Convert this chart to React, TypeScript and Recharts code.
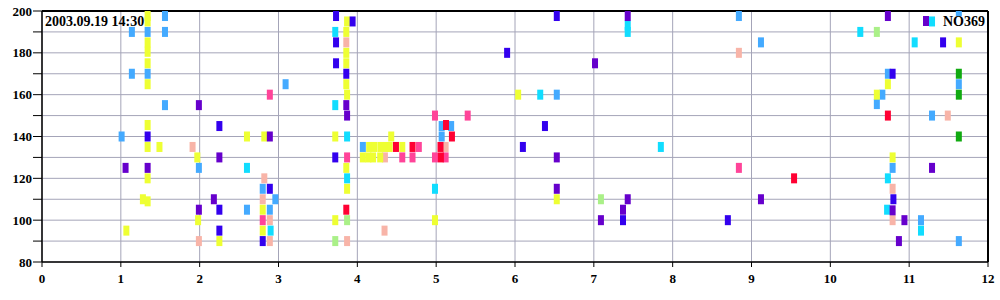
import {
  ScatterChart,
  Scatter,
  XAxis,
  YAxis,
  CartesianGrid,
  ReferenceLine,
} from "recharts";

type Pt = { x: number; y: number };

const xTicks = [0, 1, 2, 3, 4, 5, 6, 7, 8, 9, 10, 11, 12];
const yTicks = [80, 90, 100, 110, 120, 130, 140, 150, 160, 170, 180, 190, 200];

const stamp = "2003.09.19 14:30";
const legendName = "NO369";

const lightBluePts: Pt[] = [
  { x: 1.14, y: 190 }, { x: 1.14, y: 170 }, { x: 1.34, y: 190 }, { x: 1.34, y: 170 },
  { x: 1.56, y: 197.6 }, { x: 1.56, y: 190 }, { x: 1.56, y: 155 }, { x: 3.09, y: 165 },
  { x: 1.01, y: 140 }, { x: 1.99, y: 125 }, { x: 2.8, y: 115 }, { x: 2.96, y: 110 },
  { x: 2.6, y: 105 }, { x: 2.89, y: 105 }, { x: 5.07, y: 145 }, { x: 5.19, y: 145 },
  { x: 5.07, y: 140 }, { x: 4.07, y: 135 }, { x: 6.53, y: 160 }, { x: 8.84, y: 197.6 },
  { x: 9.12, y: 185 }, { x: 10.73, y: 170 }, { x: 11.63, y: 165 }, { x: 10.66, y: 160 },
  { x: 10.59, y: 155.5 }, { x: 11.29, y: 150 }, { x: 10.79, y: 125 }, { x: 11.15, y: 100 },
  { x: 11.63, y: 90 }, { x: 11.63, y: 200 },
];

const salmonPts: Pt[] = [
  { x: 1.91, y: 135 }, { x: 2.82, y: 120 }, { x: 2.8, y: 110 }, { x: 2.89, y: 100 },
  { x: 1.99, y: 90 }, { x: 2.89, y: 90 }, { x: 3.86, y: 185 }, { x: 4.35, y: 130 },
  { x: 4.345, y: 95 }, { x: 3.87, y: 90 }, { x: 5.12, y: 135 }, { x: 8.84, y: 180 },
  { x: 11.49, y: 150 }, { x: 10.79, y: 115 }, { x: 10.79, y: 100 },
];

const yellowPts: Pt[] = [
  { x: 1.34, y: 197.6 }, { x: 1.34, y: 195 }, { x: 1.34, y: 185 }, { x: 1.34, y: 180.5 },
  { x: 1.34, y: 175 }, { x: 1.34, y: 165 }, { x: 1.34, y: 145.5 }, { x: 1.34, y: 135 },
  { x: 1.49, y: 135 }, { x: 1.97, y: 130 }, { x: 1.34, y: 120 }, { x: 1.28, y: 110 },
  { x: 1.34, y: 109 }, { x: 1.98, y: 100 }, { x: 1.07, y: 95 }, { x: 2.25, y: 90 },
  { x: 2.6, y: 140 }, { x: 2.82, y: 140 }, { x: 3.72, y: 140 }, { x: 2.8, y: 105 },
  { x: 2.8, y: 95 }, { x: 3.72, y: 100 }, { x: 3.87, y: 195 }, { x: 3.86, y: 190 },
  { x: 3.86, y: 180 }, { x: 3.86, y: 175 }, { x: 3.86, y: 165 }, { x: 3.87, y: 160 },
  { x: 4.43, y: 140 }, { x: 4.15, y: 135 }, { x: 4.22, y: 135 }, { x: 4.3, y: 135 },
  { x: 4.37, y: 135 }, { x: 4.41, y: 135 }, { x: 4.57, y: 135 }, { x: 4.07, y: 130 },
  { x: 4.14, y: 130 }, { x: 4.2, y: 130 }, { x: 4.29, y: 130 }, { x: 3.86, y: 125 },
  { x: 3.87, y: 115 }, { x: 4.985, y: 100 }, { x: 6.53, y: 110 }, { x: 6.04, y: 160 },
  { x: 10.73, y: 165 }, { x: 10.59, y: 160 }, { x: 10.79, y: 130 }, { x: 11.63, y: 185 },
];

const cyanPts: Pt[] = [
  { x: 3.72, y: 190 }, { x: 3.72, y: 155 }, { x: 3.87, y: 140 }, { x: 3.87, y: 120 },
  { x: 2.6, y: 125 }, { x: 2.9, y: 95 }, { x: 4.985, y: 115 }, { x: 7.43, y: 193 },
  { x: 7.43, y: 190 }, { x: 6.32, y: 160 }, { x: 7.85, y: 135 }, { x: 10.38, y: 190 },
  { x: 11.07, y: 185 }, { x: 10.73, y: 120 }, { x: 10.72, y: 105 }, { x: 11.15, y: 95 },
  { x: 11.29, y: 195 },
];

const pinkPts: Pt[] = [
  { x: 2.89, y: 160 }, { x: 2.8, y: 100 }, { x: 3.87, y: 130 }, { x: 4.985, y: 150 },
  { x: 5.4, y: 150 }, { x: 4.78, y: 135 }, { x: 4.57, y: 130 }, { x: 4.7, y: 130 },
  { x: 4.985, y: 130 }, { x: 5.12, y: 130 }, { x: 8.84, y: 125 },
];

const redPts: Pt[] = [
  { x: 5.125, y: 145.5 }, { x: 5.2, y: 140 }, { x: 4.49, y: 135 }, { x: 4.7, y: 135 },
  { x: 5.055, y: 135 }, { x: 5.06, y: 130 }, { x: 3.86, y: 105 }, { x: 9.54, y: 120 },
  { x: 10.73, y: 150 },
];

const bluePts: Pt[] = [
  { x: 1.34, y: 140 }, { x: 2.25, y: 145 }, { x: 2.25, y: 105 }, { x: 2.25, y: 95 },
  { x: 2.89, y: 115 }, { x: 2.8, y: 90 }, { x: 3.72, y: 130 }, { x: 3.73, y: 197.6 },
  { x: 3.94, y: 195 }, { x: 3.73, y: 185 }, { x: 3.73, y: 175 }, { x: 3.86, y: 170 },
  { x: 6.1, y: 135 }, { x: 6.53, y: 197.6 }, { x: 5.9, y: 180 }, { x: 6.38, y: 145 },
  { x: 7.37, y: 100 }, { x: 8.7, y: 100 }, { x: 10.79, y: 170 }, { x: 11.43, y: 185 },
  { x: 10.8, y: 110 },
];

const purplePts: Pt[] = [
  { x: 1.99, y: 155 }, { x: 2.89, y: 140 }, { x: 1.06, y: 125 }, { x: 1.34, y: 125 },
  { x: 2.25, y: 130 }, { x: 2.18, y: 110 }, { x: 1.99, y: 105 }, { x: 3.86, y: 155 },
  { x: 3.87, y: 150 }, { x: 6.53, y: 130 }, { x: 6.53, y: 115 }, { x: 7.43, y: 110 },
  { x: 7.37, y: 105 }, { x: 7.09, y: 100 }, { x: 7.43, y: 197.6 }, { x: 7.015, y: 175 },
  { x: 10.73, y: 197.6 }, { x: 9.12, y: 110 }, { x: 10.79, y: 104.7 }, { x: 10.94, y: 100 },
  { x: 10.87, y: 90 }, { x: 11.29, y: 125 },
];

const lightGreenPts: Pt[] = [
  { x: 3.72, y: 90 }, { x: 3.87, y: 100 }, { x: 7.09, y: 110 }, { x: 10.59, y: 190 },
];

const greenPts: Pt[] = [
  { x: 11.63, y: 170 }, { x: 11.63, y: 160 }, { x: 11.63, y: 140 },
];

const series = [
  { key: "lb", color: "#44aaff", data: lightBluePts },
  { key: "sa", color: "#f8b4a8", data: salmonPts },
  { key: "ye", color: "#eeff33", data: yellowPts },
  { key: "cy", color: "#11ddff", data: cyanPts },
  { key: "pk", color: "#ff4499", data: pinkPts },
  { key: "rd", color: "#ff0033", data: redPts },
  { key: "bl", color: "#3300ee", data: bluePts },
  { key: "pu", color: "#6600cc", data: purplePts },
  { key: "lg", color: "#aaf088", data: lightGreenPts },
  { key: "gr", color: "#11aa11", data: greenPts },
];

const font = "'Liberation Serif', 'Times New Roman', serif";

// small 6x10 block, like the original plot's markers
function Block(props: any) {
  const { cx, cy, fill } = props;
  if (cx == null || cy == null) return null;
  return <rect x={cx - 3} y={cy - 5} width={6} height={10} fill={fill} />;
}

export default function App() {
  const tickStyle = { fill: "#000", fontSize: 13, fontWeight: "bold", fontFamily: font };
  return (
    <div style={{ position: "relative", width: 1000, height: 300 }}>
      <style>{"body{margin:0}"}</style>
      <ScatterChart width={1000} height={300} margin={{ top: 11, right: 12, bottom: 0, left: 0 }}>
        <CartesianGrid stroke="#a4a4b8" strokeWidth={1} />
        <XAxis
          type="number"
          dataKey="x"
          domain={[0, 12]}
          ticks={xTicks}
          interval={0}
          allowDataOverflow
          height={38}
          tickSize={5}
          tickMargin={7}
          axisLine={{ stroke: "#000", strokeWidth: 1.5 }}
          tickLine={{ stroke: "#000" }}
          tick={tickStyle}
        />
        <YAxis
          type="number"
          dataKey="y"
          domain={[80, 200]}
          ticks={yTicks}
          interval={0}
          allowDataOverflow
          width={42}
          tickSize={9}
          tickMargin={1}
          axisLine={{ stroke: "#000", strokeWidth: 1.5 }}
          tickLine={{ stroke: "#000" }}
          tick={tickStyle}
          tickFormatter={(v) => (v % 20 === 0 ? String(v) : "")}
        />
        <ReferenceLine y={200} stroke="#000" strokeWidth={2} />
        <ReferenceLine x={12} stroke="#000" strokeWidth={2} />
        {series.map((s) => (
          <Scatter
            key={s.key}
            data={s.data}
            fill={s.color}
            shape={Block}
            isAnimationActive={false}
          />
        ))}
      </ScatterChart>
      <svg
        width={1000}
        height={300}
        style={{ position: "absolute", left: 0, top: 0, pointerEvents: "none" }}
      >
        <text x={45} y={26} fontFamily={font} fontWeight="bold" fontSize={14} fill="#000">
          {stamp}
        </text>
        <rect x={923} y={16} width={6} height={10} fill="#6600cc" />
        <text x={985} y={26} textAnchor="end" fontFamily={font} fontWeight="bold" fontSize={14} fill="#000">
          {legendName}
        </text>
      </svg>
    </div>
  );
}
